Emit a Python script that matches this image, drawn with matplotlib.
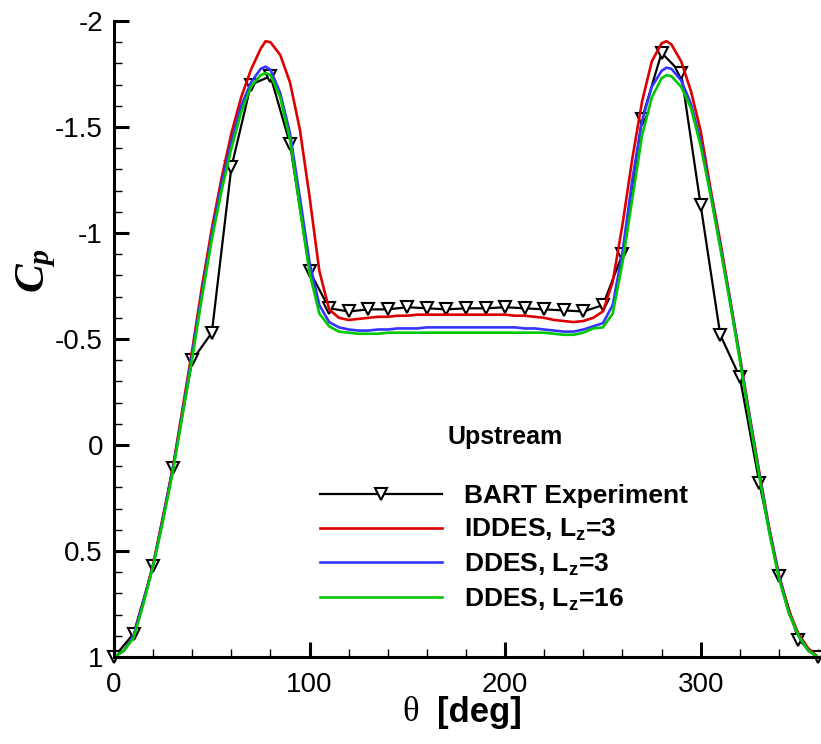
import numpy as np
import matplotlib
matplotlib.use("Agg")
import matplotlib.pyplot as plt
from matplotlib.ticker import MultipleLocator

plt.rcParams['font.family'] = ['Liberation Sans', 'DejaVu Sans']
plt.rcParams['mathtext.fontset'] = 'custom'
plt.rcParams['mathtext.rm'] = 'Liberation Sans:bold'
plt.rcParams['mathtext.bf'] = 'Liberation Sans:bold'
plt.rcParams['mathtext.it'] = 'Liberation Serif:italic:bold'

# theta grid of the CFD curves (deg)
theta_cfd = [0, 5, 10, 15, 20, 25, 30, 35, 40, 45, 50, 55, 60, 65, 70, 75, 77.5, 80,
             85, 90, 95, 100, 105, 110, 115, 120, 125, 130, 135, 140, 145, 150, 155,
             160, 165, 170, 175, 180, 185, 190, 195, 200, 205, 210, 215, 220, 225,
             230, 235, 240, 245, 250, 255, 260, 265, 270, 275, 280, 282.5, 285, 290,
             295, 300, 305, 310, 315, 320, 325, 330, 335, 340, 345, 350, 355, 360]

cp_iddes_3 = [1.00, 0.97, 0.90, 0.74, 0.56, 0.34, 0.11, -0.17, -0.45, -0.75, -1.02,
              -1.26, -1.47, -1.64, -1.77, -1.87, -1.905, -1.90, -1.84, -1.71, -1.49,
              -1.17, -0.82, -0.64, -0.60, -0.59, -0.595, -0.60, -0.605, -0.605, -0.61,
              -0.61, -0.615, -0.615, -0.615, -0.615, -0.615, -0.615, -0.615, -0.615,
              -0.615, -0.615, -0.61, -0.61, -0.605, -0.60, -0.59, -0.585, -0.58,
              -0.585, -0.60, -0.63, -0.77, -1.04, -1.35, -1.62, -1.81, -1.895, -1.905,
              -1.89, -1.81, -1.67, -1.48, -1.21, -0.96, -0.69, -0.42, -0.14, 0.13,
              0.39, 0.61, 0.78, 0.89, 0.96, 1.00]

cp_ddes_3 = [1.00, 0.97, 0.90, 0.74, 0.57, 0.35, 0.12, -0.15, -0.43, -0.72, -0.99,
             -1.23, -1.43, -1.60, -1.71, -1.775, -1.785, -1.77, -1.66, -1.47, -1.17,
             -0.86, -0.66, -0.58, -0.555, -0.545, -0.54, -0.54, -0.545, -0.545, -0.55,
             -0.55, -0.55, -0.555, -0.555, -0.555, -0.555, -0.555, -0.555, -0.555,
             -0.555, -0.555, -0.555, -0.55, -0.55, -0.545, -0.54, -0.535, -0.535,
             -0.545, -0.56, -0.575, -0.66, -0.91, -1.25, -1.53, -1.69, -1.765, -1.78,
             -1.775, -1.72, -1.61, -1.43, -1.19, -0.94, -0.68, -0.41, -0.13, 0.14,
             0.40, 0.62, 0.79, 0.90, 0.97, 1.00]

cp_ddes_16 = [1.00, 0.97, 0.91, 0.75, 0.57, 0.36, 0.13, -0.14, -0.41, -0.70, -0.97,
              -1.20, -1.40, -1.57, -1.69, -1.745, -1.755, -1.745, -1.64, -1.44, -1.12,
              -0.81, -0.62, -0.56, -0.535, -0.53, -0.525, -0.525, -0.525, -0.53, -0.53,
              -0.53, -0.53, -0.53, -0.53, -0.53, -0.53, -0.53, -0.53, -0.53, -0.53,
              -0.53, -0.53, -0.53, -0.53, -0.53, -0.525, -0.52, -0.52, -0.53, -0.55,
              -0.555, -0.62, -0.86, -1.16, -1.46, -1.64, -1.73, -1.745, -1.74, -1.69,
              -1.59, -1.41, -1.18, -0.93, -0.67, -0.40, -0.12, 0.15, 0.41, 0.63, 0.79,
              0.90, 0.97, 1.00]

# BART experiment, every 10 deg
theta_exp = list(range(0, 361, 10))
cp_exp = [1.00, 0.89, 0.57, 0.11, -0.40, -0.53, -1.31, -1.70, -1.74, -1.42, -0.82,
          -0.645, -0.63, -0.64, -0.64, -0.65, -0.645, -0.64, -0.645, -0.645, -0.65,
          -0.645, -0.64, -0.635, -0.63, -0.66, -0.90, -1.54, -1.85, -1.755, -1.13,
          -0.52, -0.32, 0.18, 0.62, 0.92, 1.00]

labels = ["BART Experiment", r"IDDES, $\mathbf{L_z}$=3", r"DDES, $\mathbf{L_z}$=3",
          r"DDES, $\mathbf{L_z}$=16"]

fig = plt.figure(figsize=(8.21, 7.44), dpi=100)
ax = fig.add_axes([0.1389, 0.1169, 0.8575, 0.8548])

ax.plot(theta_exp, cp_exp, color='black', lw=1.6, marker='v', ms=9, mew=1.5,
        mfc='white', mec='black', clip_on=False, label=labels[0])
ax.plot(theta_cfd, cp_iddes_3, color='#dd0000', lw=1.9, label=labels[1])
ax.plot(theta_cfd, cp_ddes_3, color='#3535ff', lw=1.9, label=labels[2])
ax.plot(theta_cfd, cp_ddes_16, color='#00c800', lw=1.9, label=labels[3])

ax.set_xlim(0, 360)
ax.set_ylim(1, -2)  # Cp axis drawn negative up
ax.xaxis.set_major_locator(MultipleLocator(100))
ax.xaxis.set_minor_locator(MultipleLocator(20))
ax.yaxis.set_major_locator(MultipleLocator(0.5))
ax.yaxis.set_minor_locator(MultipleLocator(0.1))
ax.yaxis.set_major_formatter(matplotlib.ticker.FuncFormatter(lambda v, p: f"{v:g}"))

for s in ['top', 'right']:
    ax.spines[s].set_visible(False)
for s in ['left', 'bottom']:
    ax.spines[s].set_linewidth(2.2)
ax.tick_params(which='major', direction='in', length=11, width=2.2, labelsize=20)
ax.tick_params(axis='x', which='major', pad=11)
ax.tick_params(axis='y', which='major', pad=8)
ax.tick_params(which='minor', direction='in', length=6, width=1)

ax.set_ylabel(r"$C_p$", fontsize=31)
ax.yaxis.set_label_coords(-0.079, 0.608)

# x label: thin theta + bold [deg]
ax.text(0.421, -0.088, "θ", transform=ax.transAxes, ha='center', va='center',
        fontsize=25, family=['Liberation Serif', 'DejaVu Serif'])
ax.text(0.519, -0.088, "[deg]", transform=ax.transAxes, ha='center', va='center',
        fontsize=25, fontweight='bold')

ax.text(200, -0.04, "Upstream", ha='center', va='center', fontsize=18, fontweight='bold')

leg = ax.legend(loc='upper left', bbox_to_anchor=(0.293, 0.272), frameon=False,
                handlelength=4.6, handletextpad=0.85, labelspacing=0.33, borderpad=0,
                borderaxespad=0, numpoints=1, prop={'size': 19, 'weight': 'bold'})

fig.savefig("out.png", dpi=100)
